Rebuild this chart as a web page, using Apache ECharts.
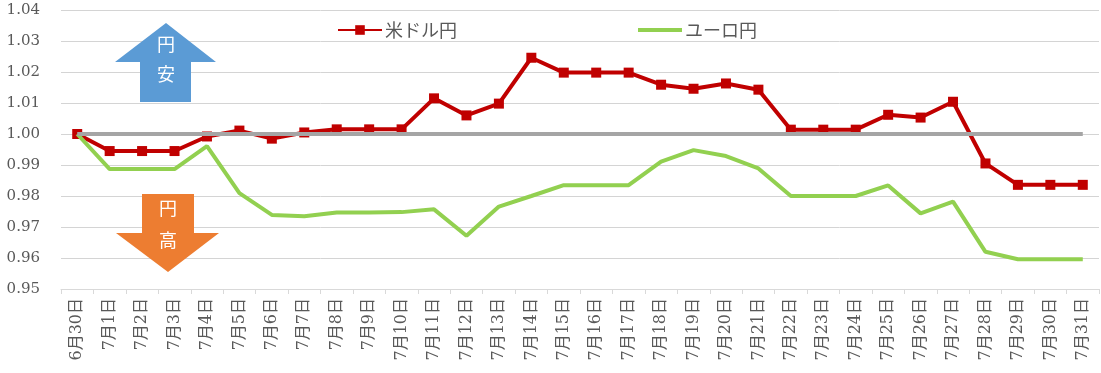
<!DOCTYPE html>
<html><head><meta charset="utf-8">
<script src="https://cdn.jsdelivr.net/npm/echarts@6/dist/echarts.min.js"></script>
<style>html,body{margin:0;padding:0;background:#fff;}#c{width:1101px;height:373px;}</style>
</head><body><div id="c"></div>
<script>
const categories = ['6月30日','7月1日','7月2日','7月3日','7月4日','7月5日','7月6日','7月7日','7月8日','7月9日','7月10日','7月11日','7月12日','7月13日','7月14日','7月15日','7月16日','7月17日','7月18日','7月19日','7月20日','7月21日','7月22日','7月23日','7月24日','7月25日','7月26日','7月27日','7月28日','7月29日','7月30日','7月31日'];
const usdJpy = [1.000,0.9945,0.9945,0.9945,0.9992,1.0011,0.9985,1.0005,1.0015,1.0015,1.0015,1.0115,1.0060,1.0098,1.0246,1.0198,1.0198,1.0198,1.0159,1.0146,1.0163,1.0143,1.0014,1.0014,1.0014,1.0062,1.0053,1.0104,0.9905,0.9836,0.9836,0.9836];
const eurJpy = [1.000,0.9887,0.9887,0.9887,0.9961,0.9809,0.9739,0.9735,0.9747,0.9747,0.9748,0.9757,0.9672,0.9766,0.9800,0.9835,0.9835,0.9835,0.9911,0.9948,0.9929,0.9889,0.9800,0.9800,0.9800,0.9834,0.9744,0.9782,0.9620,0.9596,0.9596,0.9596];
const baseline = [1.00,1.00,1.00,1.00,1.00,1.00,1.00,1.00,1.00,1.00,1.00,1.00,1.00,1.00,1.00,1.00,1.00,1.00,1.00,1.00,1.00,1.00,1.00,1.00,1.00,1.00,1.00,1.00,1.00,1.00,1.00,1.00];
const seriesNames = ['米ドル円','ユーロ円'];
const yMin = 0.95, yMax = 1.04, yStep = 0.01;

const serif = "'DejaVu Serif','Noto Sans CJK JP',serif";
const jp = "'Noto Sans CJK JP',sans-serif";
const txt = '#595959';
const chart = echarts.init(document.getElementById('c'), null, {renderer:'canvas'});
chart.setOption({
  animation:false,
  backgroundColor:'#fff',
  grid:{left:61,right:2,top:10,bottom:84},
  legend:[
    {data:[seriesNames[0]],left:337,top:21,padding:0,itemWidth:44,itemHeight:12,itemGap:3,
     textStyle:{fontSize:18,color:txt,fontFamily:jp,padding:[0,0,0,-2]}},
    {data:[{name:seriesNames[1],icon:'path://M0,0 L44,0 L44,4 L0,4 Z'}],left:638,top:21,padding:0,itemWidth:44,itemHeight:4,itemGap:3,
     textStyle:{fontSize:18,color:txt,fontFamily:jp,padding:[0,0,0,-2]}}
  ],
  xAxis:{type:'category',data:categories,boundaryGap:true,
    axisLine:{lineStyle:{color:'#d9d9d9',width:1}},
    axisTick:{show:true,length:5,lineStyle:{color:'#d9d9d9'}},
    axisLabel:{rotate:90,interval:0,margin:9,fontSize:16,color:txt,fontFamily:serif}},
  yAxis:{type:'value',min:yMin,max:yMax,interval:yStep,
    axisLine:{show:false},axisTick:{show:false},
    splitLine:{lineStyle:{color:'#d4d4d4',width:1}},
    axisLabel:{margin:21,fontSize:15,color:txt,fontFamily:serif,formatter:v=>v.toFixed(2)}},
  series:[
    {name:seriesNames[0],type:'line',data:usdJpy,symbol:'rect',symbolSize:10,
     lineStyle:{color:'#c00000',width:4},itemStyle:{color:'#c00000'},z:2},
    {name:seriesNames[1],type:'line',data:eurJpy,showSymbol:false,symbol:'none',
     lineStyle:{color:'#92d050',width:4},itemStyle:{color:'#92d050'},z:3},
    {name:'基準',type:'line',data:baseline,showSymbol:false,symbol:'none',
     lineStyle:{color:'#a5a5a5',width:4},itemStyle:{color:'#a5a5a5'},z:4}
  ],
  graphic:[
    {type:'polygon',shape:{points:[[166,23],[216,62],[191,62],[191,102],[140,102],[140,62],[115,62]]},
     style:{fill:'#5b9bd5'},z:10},
    {type:'text',left:157,top:35,style:{text:'円',fill:'#fff',fontSize:18,fontFamily:jp},z:11},
    {type:'text',left:157,top:65,style:{text:'安',fill:'#fff',fontSize:18,fontFamily:jp},z:11},
    {type:'polygon',shape:{points:[[142,194],[194,194],[194,233],[219,233],[168,272],[116,233],[142,233]]},
     style:{fill:'#ed7d31'},z:10},
    {type:'text',left:159,top:199,style:{text:'円',fill:'#fff',fontSize:18,fontFamily:jp},z:11},
    {type:'text',left:159,top:231,style:{text:'高',fill:'#fff',fontSize:18,fontFamily:jp},z:11}
  ]
});
</script></body></html>
